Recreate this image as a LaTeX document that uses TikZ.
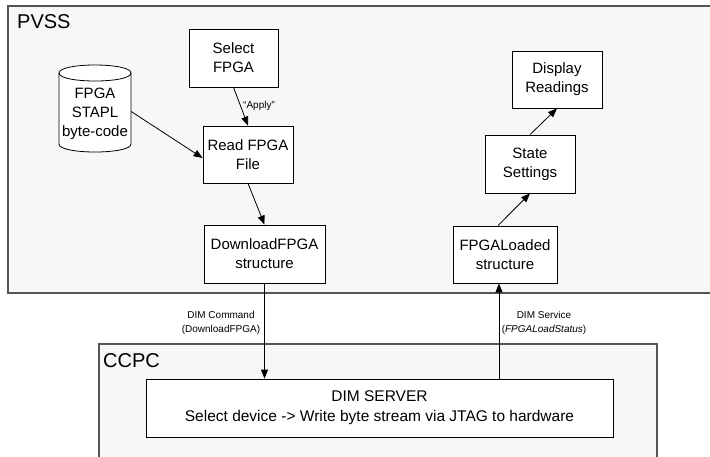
\documentclass[tikz,border=0pt]{standalone}
\usepackage{fontspec}
\setmainfont{Liberation Sans}
\usetikzlibrary{arrows.meta}
\definecolor{contfill}{HTML}{F7F7F7}
\definecolor{contline}{HTML}{555555}
\tikzset{
  container/.style={draw=contline, line width=1.3pt, fill=contfill, inner sep=0pt, rectangle},
  contlabel/.style={font=\fontsize{20}{22}\selectfont, inner sep=0pt},
  box/.style={draw=black, line width=0.8pt, fill=white, inner sep=0pt, rectangle,
              align=center, font=\fontsize{15}{19}\selectfont},
  small/.style={font=\fontsize{10}{14}\selectfont, inner sep=0pt, align=center},
  conn/.style={line width=0.8pt, -{Triangle[length=9pt,width=7pt]}},
}
\begin{document}
\begin{tikzpicture}[x=1pt,y=-1pt]
\useasboundingbox (0,0) rectangle (710,456);
\clip (0,0) rectangle (710,456);
% containers
\node[container, minimum width=714pt, minimum height=287pt] (pvss) at (365,149.5) {};
\node[contlabel, anchor=base west] (pvsslbl) at (17,28) {PVSS};
\node[container, minimum width=558pt, minimum height=130pt] (ccpc) at (378,409) {};
\node[contlabel, anchor=base west] (ccpclbl) at (103,367) {CCPC};
% boxes
\node[box, minimum width=89pt, minimum height=58pt] (sel) at (233.5,58) {Select\\FPGA};
\node[box, minimum width=90pt, minimum height=57pt] (read) at (248,154.5) {Read FPGA\\File};
\node[box, minimum width=121pt, minimum height=58pt] (dl) at (264.5,254) {DownloadFPGA\\structure};
\node[box, minimum width=90pt, minimum height=57pt] (disp) at (557,79.5) {Display\\Readings};
\node[box, minimum width=90pt, minimum height=58pt] (state) at (530,164) {State\\Settings};
\node[box, minimum width=104pt, minimum height=57pt] (fl) at (505,254.5) {FPGALoaded\\structure};
\node[box, minimum width=467pt, minimum height=58pt, font=\fontsize{15.5}{20}\selectfont] (dim) at (379.5,408)
  {DIM SERVER\\Select device -> Write byte stream via JTAG to hardware};
% cylinder
\node[minimum width=72pt, minimum height=87pt, inner sep=0pt] (cyl) at (95,108.5) {};
\draw[line width=0.8pt, fill=white] (59,73) -- (59,144) .. controls (59,154.67) and (131,154.67) .. (131,144)
  -- (131,73) .. controls (131,62.33) and (59,62.33) .. (59,73) -- cycle;
\draw[line width=0.8pt] (59,73) .. controls (59,83.67) and (131,83.67) .. (131,73);
\node[box, draw=none, fill=none] (cyltext) at (95,114) {FPGA\\STAPL\\byte-code};
% connectors
\draw[conn] (sel.south) -- (read.north);
\node[small, anchor=west] (apply) at (243,106) {``Apply''};
\draw[conn] ([yshift=-3pt]cyl.east) -- ([yshift=-3.5pt]read.west);
\draw[conn] (read.south) -- (dl.north);
\draw[conn] ([xshift=-7pt]fl.north) -- (state.south);
\draw[conn] (state.north) -- (disp.south);
\draw[conn] (dl.south) -- (dl.south |- dim.north);
\coordinate (up) at ([xshift=-6pt]fl.south);
\draw[conn] (up |- dim.north) -- (up);
\node[small] (cmdlbl) at (221,323) {DIM Command\\(DownloadFPGA)};
\node[small] (svclbl) at (544,323) {DIM Service\\(\textit{FPGALoadStatus})};
\end{tikzpicture}
\end{document}
